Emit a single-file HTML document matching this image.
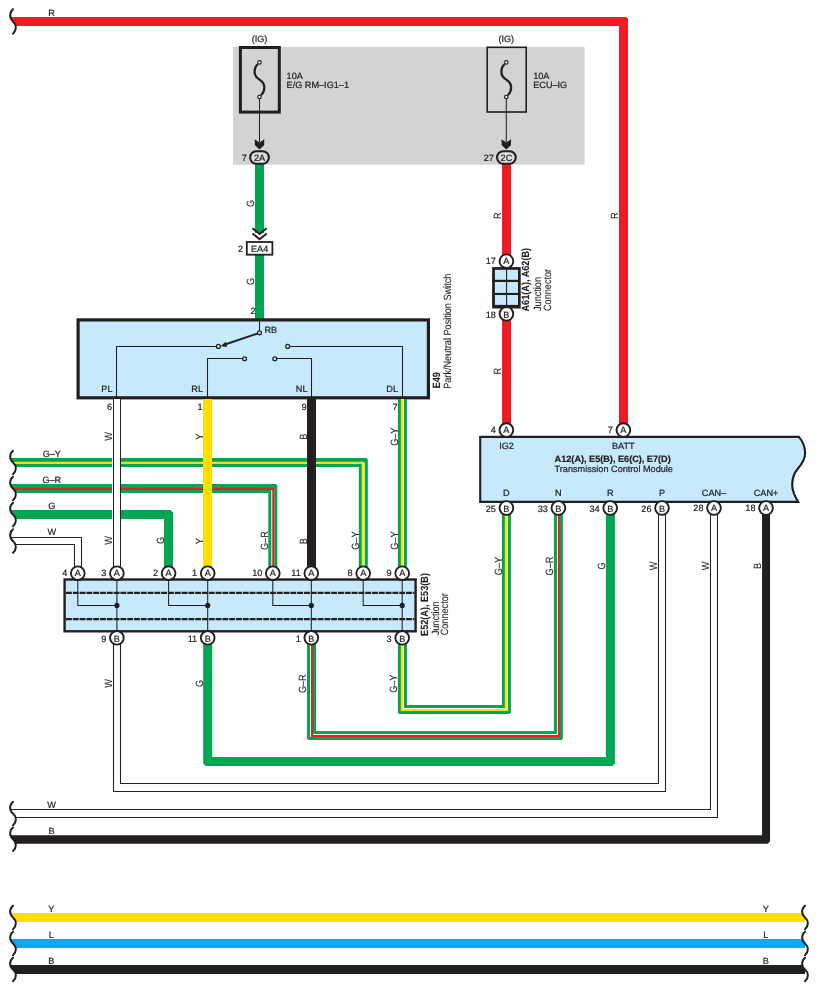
<!DOCTYPE html>
<html><head><meta charset="utf-8"><style>
html,body{margin:0;padding:0;background:#fff;}
svg{display:block;will-change:transform;}
text{font-family:"Liberation Sans", sans-serif;stroke:#231F20;text-rendering:geometricPrecision;}
</style></head><body>
<svg width="818" height="991" viewBox="0 0 818 991">
<rect x="0" y="0" width="818" height="991" fill="#fff"/>
<path d="M8,21.4 H623.5 V424" fill="none" stroke="#ED1C24" stroke-width="9.0" stroke-linejoin="miter"/>
<path d="M626.40,16.90 L628.60,16.30 L628.00,18.50 Z" fill="#fff"/>
<path d="M13,9.149999999999999 C9.2,12.579999999999998 9.2,17.97 13,21.4 C16.8,24.83 16.8,30.22 13,33.65 L4,33.65 L4,9.149999999999999 Z" fill="#fff"/>
<path d="M13,9.149999999999999 C9.2,12.579999999999998 9.2,17.97 13,21.4 C16.8,24.83 16.8,30.22 13,33.65" fill="none" stroke="#231F20" stroke-width="2" stroke-linecap="round"/>
<text transform="translate(51.6,16) scale(1,1.0)" font-size="9.15" text-anchor="middle" fill="#231F20" stroke-width="0.22">R</text>
<text transform="translate(617.7,215.7) rotate(-90) scale(1,1.15)" font-size="9.15" text-anchor="middle" fill="#231F20" stroke-width="0.08">R</text>
<rect x="233" y="46.9" width="351.6" height="117.8" fill="#D1D3D4"/>
<rect x="240.4" y="47.5" width="38.9" height="64.6" fill="none" stroke="#231F20" stroke-width="3.0"/>
<rect x="487.2" y="47.3" width="39" height="64.7" fill="none" stroke="#231F20" stroke-width="1.6"/>
<path d="M258.0,64.3 C256.0,65.5 254.6,69 254.6,72.2 C254.6,76 257.0,78 259.5,79.6 C262.0,81.2 264.3,83.5 264.3,87.3 C264.3,90.5 263.0,93.5 261.0,95.1" fill="none" stroke="#231F20" stroke-width="2.3"/>
<circle cx="259.5" cy="62.4" r="1.75" fill="#fff" stroke="#231F20" stroke-width="1.2"/>
<circle cx="259.5" cy="97.1" r="1.75" fill="#fff" stroke="#231F20" stroke-width="1.2"/>
<line x1="259.5" y1="98.8" x2="259.5" y2="142" stroke="#231F20" stroke-width="1"/>
<path d="M254.7,139.2 L259.5,142.6 L264.3,139.2 L264.1,145.3 L259.5,149.6 L254.9,145.3 Z" fill="#231F20"/>
<text transform="translate(259.5,41.7) scale(1,1.0)" font-size="9.15" text-anchor="middle" fill="#231F20" stroke-width="0.22">(IG)</text>
<path d="M504.8,64.3 C502.8,65.5 501.40000000000003,69 501.40000000000003,72.2 C501.40000000000003,76 503.8,78 506.3,79.6 C508.8,81.2 511.1,83.5 511.1,87.3 C511.1,90.5 509.8,93.5 507.8,95.1" fill="none" stroke="#231F20" stroke-width="2.3"/>
<circle cx="506.3" cy="62.4" r="1.75" fill="#fff" stroke="#231F20" stroke-width="1.2"/>
<circle cx="506.3" cy="97.1" r="1.75" fill="#fff" stroke="#231F20" stroke-width="1.2"/>
<line x1="506.3" y1="98.8" x2="506.3" y2="142" stroke="#231F20" stroke-width="1"/>
<path d="M501.5,139.2 L506.3,142.6 L511.1,139.2 L510.90000000000003,145.3 L506.3,149.6 L501.7,145.3 Z" fill="#231F20"/>
<text transform="translate(506.3,41.7) scale(1,1.0)" font-size="9.15" text-anchor="middle" fill="#231F20" stroke-width="0.22">(IG)</text>
<text transform="translate(286.6,78.8) scale(1,1.0)" font-size="9.15" text-anchor="start" fill="#231F20" stroke-width="0.22">10A</text>
<text transform="translate(286.6,87.6) scale(1,1.0)" font-size="9.15" text-anchor="start" fill="#231F20" stroke-width="0.22">E/G RM–IG1–1</text>
<text transform="translate(533.2,78.6) scale(1,1.0)" font-size="9.15" text-anchor="start" fill="#231F20" stroke-width="0.22">10A</text>
<text transform="translate(533.2,87.5) scale(1,1.0)" font-size="9.15" text-anchor="start" fill="#231F20" stroke-width="0.22">ECU–IG</text>
<path d="M259.5,160 V233" fill="none" stroke="#00A651" stroke-width="9.0" stroke-linejoin="miter"/>
<path d="M259.5,254 V319" fill="none" stroke="#00A651" stroke-width="9.0" stroke-linejoin="miter"/>
<text transform="translate(254,203.4) rotate(-90) scale(1,1.15)" font-size="9.15" text-anchor="middle" fill="#231F20" stroke-width="0.08">G</text>
<text transform="translate(254,281.4) rotate(-90) scale(1,1.15)" font-size="9.15" text-anchor="middle" fill="#231F20" stroke-width="0.08">G</text>
<path d="M252.5,228.3 L259.6,234 L266.7,228.3 M252.5,233.4 L259.6,239.2 L266.7,233.4" fill="none" stroke="#231F20" stroke-width="2"/>
<rect x="246.8" y="242" width="25.6" height="12.7" fill="#fff" stroke="#231F20" stroke-width="1.8"/>
<text transform="translate(259.6,251.9) scale(1,1.0)" font-size="9.15" text-anchor="middle" fill="#231F20" stroke-width="0.22">EA4</text>
<text transform="translate(243,251.9) scale(1,1.0)" font-size="9.15" text-anchor="end" fill="#231F20" stroke-width="0.22">2</text>
<text transform="translate(255.5,313.6) scale(1,1.0)" font-size="9.15" text-anchor="end" fill="#231F20" stroke-width="0.22">2</text>
<path d="M506.5,160 V255" fill="none" stroke="#ED1C24" stroke-width="9.0" stroke-linejoin="miter"/>
<path d="M506.5,312 V424" fill="none" stroke="#ED1C24" stroke-width="9.0" stroke-linejoin="miter"/>
<text transform="translate(501,215.7) rotate(-90) scale(1,1.15)" font-size="9.15" text-anchor="middle" fill="#231F20" stroke-width="0.08">R</text>
<text transform="translate(501,371.3) rotate(-90) scale(1,1.15)" font-size="9.15" text-anchor="middle" fill="#231F20" stroke-width="0.08">R</text>
<rect x="250.15" y="151.3" width="18.7" height="12.4" rx="6.2" ry="6.2" fill="#DCDDDE" stroke="#231F20" stroke-width="2.1"/>
<text transform="translate(259.5,160.7) scale(1,1.0)" font-size="9.15" text-anchor="middle" fill="#231F20" stroke-width="0.22">2A</text>
<text transform="translate(246.9,160.7) scale(1,1.0)" font-size="9.15" text-anchor="end" fill="#231F20" stroke-width="0.22">7</text>
<rect x="497.04999999999995" y="151.3" width="18.7" height="12.4" rx="6.2" ry="6.2" fill="#DCDDDE" stroke="#231F20" stroke-width="2.1"/>
<text transform="translate(506.4,160.7) scale(1,1.0)" font-size="9.15" text-anchor="middle" fill="#231F20" stroke-width="0.22">2C</text>
<text transform="translate(493.79999999999995,160.7) scale(1,1.0)" font-size="9.15" text-anchor="end" fill="#231F20" stroke-width="0.22">27</text>
<rect x="492.1" y="267.1" width="28.6" height="41.4" fill="#231F20"/>
<rect x="494.9" y="269.8" width="11.100000000000023" height="10.0" fill="#C6E9FC"/>
<rect x="494.9" y="282.0" width="11.100000000000023" height="10.899999999999977" fill="#C6E9FC"/>
<rect x="494.9" y="295.0" width="11.100000000000023" height="9.899999999999977" fill="#C6E9FC"/>
<rect x="507.1" y="269.8" width="10.899999999999977" height="10.0" fill="#C6E9FC"/>
<rect x="507.1" y="282.0" width="10.899999999999977" height="10.899999999999977" fill="#C6E9FC"/>
<rect x="507.1" y="295.0" width="10.899999999999977" height="9.899999999999977" fill="#C6E9FC"/>
<circle cx="506.4" cy="261.2" r="6.85" fill="#fff" stroke="#231F20" stroke-width="1.9"/>
<text transform="translate(506.4,263.9) scale(1,1.0)" font-size="9.15" text-anchor="middle" fill="#231F20" stroke-width="0.22">A</text>
<text transform="translate(495.8999999999999,263.9) scale(1,1.0)" font-size="9.15" text-anchor="end" fill="#231F20" stroke-width="0.22">17</text>
<circle cx="506.4" cy="313.8" r="6.85" fill="#fff" stroke="#231F20" stroke-width="1.9"/>
<text transform="translate(506.4,317.7) scale(1,1.0)" font-size="9.15" text-anchor="middle" fill="#231F20" stroke-width="0.22">B</text>
<text transform="translate(495.8999999999999,317.7) scale(1,1.0)" font-size="9.15" text-anchor="end" fill="#231F20" stroke-width="0.22">18</text>
<text transform="translate(529.3,279.7) rotate(-90) scale(1,1.15)" font-size="9.15" text-anchor="middle" font-weight="bold" fill="#231F20" stroke-width="0.08">A61(A), A62(B)</text>
<text transform="translate(540.6,311) rotate(-90) scale(1,1.15)" font-size="9.15" text-anchor="start" fill="#231F20" stroke-width="0.08">Junction</text>
<text transform="translate(550.5,311) rotate(-90) scale(1,1.15)" font-size="9.15" text-anchor="start" fill="#231F20" stroke-width="0.08">Connector</text>
<rect x="78.1" y="319.9" width="350.3" height="77.9" fill="#C6E9FC" stroke="#231F20" stroke-width="3.2"/>
<path d="M116.5,398 V346.5 H216.4 M207.5,398 V358.5 H242.6 M311.5,398 V358.5 H276.8 M402.5,398 V346.5 H289.7 M259.5,321 V330.9" fill="none" stroke="#231F20" stroke-width="1.05"/>
<circle cx="259.5" cy="332.8" r="1.95" fill="#C6E9FC" stroke="#231F20" stroke-width="1.25"/>
<circle cx="218.4" cy="346.4" r="1.95" fill="#C6E9FC" stroke="#231F20" stroke-width="1.25"/>
<circle cx="287.7" cy="346.4" r="1.95" fill="#C6E9FC" stroke="#231F20" stroke-width="1.25"/>
<circle cx="244.6" cy="358.7" r="1.95" fill="#C6E9FC" stroke="#231F20" stroke-width="1.25"/>
<circle cx="274.8" cy="358.7" r="1.95" fill="#C6E9FC" stroke="#231F20" stroke-width="1.25"/>
<line x1="257.7" y1="333.5" x2="225" y2="344.5" stroke="#231F20" stroke-width="1.9"/>
<path d="M220.7,346.3 L225.6,341.8 L227.0,347.0 Z" fill="#231F20"/>
<text transform="translate(264.5,332.6) scale(1,1.0)" font-size="9.15" text-anchor="start" fill="#231F20" stroke-width="0.22">RB</text>
<text transform="translate(112.5,392) scale(1,1.0)" font-size="9.15" text-anchor="end" fill="#231F20" stroke-width="0.22">PL</text>
<text transform="translate(203,392) scale(1,1.0)" font-size="9.15" text-anchor="end" fill="#231F20" stroke-width="0.22">RL</text>
<text transform="translate(307.5,392) scale(1,1.0)" font-size="9.15" text-anchor="end" fill="#231F20" stroke-width="0.22">NL</text>
<text transform="translate(398,392) scale(1,1.0)" font-size="9.15" text-anchor="end" fill="#231F20" stroke-width="0.22">DL</text>
<text transform="translate(112,409.5) scale(1,1.0)" font-size="9.15" text-anchor="end" fill="#231F20" stroke-width="0.22">6</text>
<text transform="translate(202.5,409.5) scale(1,1.0)" font-size="9.15" text-anchor="end" fill="#231F20" stroke-width="0.22">1</text>
<text transform="translate(306.5,409.5) scale(1,1.0)" font-size="9.15" text-anchor="end" fill="#231F20" stroke-width="0.22">9</text>
<text transform="translate(397.5,409.5) scale(1,1.0)" font-size="9.15" text-anchor="end" fill="#231F20" stroke-width="0.22">7</text>
<text transform="translate(440,380.2) rotate(-90) scale(1,1.15)" font-size="9.15" text-anchor="middle" font-weight="bold" fill="#231F20" stroke-width="0.08">E49</text>
<text transform="translate(451,388.8) rotate(-90) scale(1,1.15)" font-size="9.15" text-anchor="start" fill="#231F20" stroke-width="0.08">Park/Neutral Position Switch</text>
<path d="M8,462.4 H363.3 V567" fill="none" stroke="#00A651" stroke-width="9.0" stroke-linejoin="miter"/>
<path d="M366.50,457.90 L368.40,457.30 L367.80,459.20 Z" fill="#fff"/>
<line x1="363.3" y1="462.4" x2="363.3" y2="567.0" stroke="#fff" stroke-width="2.9"/>
<path transform="translate(-0.5,0.45)" d="M8,462.4 H363.3 V567" fill="none" stroke="#FFDE00" stroke-width="2.1" stroke-linejoin="miter"/>
<path d="M8,488.6 H272.8 V567" fill="none" stroke="#00A651" stroke-width="9.0" stroke-linejoin="miter"/>
<path d="M276.00,484.10 L277.90,483.50 L277.30,485.40 Z" fill="#fff"/>
<line x1="272.8" y1="488.6" x2="272.8" y2="567.0" stroke="#fff" stroke-width="2.9"/>
<path transform="translate(0.5,0.45)" d="M8,488.6 H272.8 V567" fill="none" stroke="#ED1C24" stroke-width="2.1" stroke-linejoin="miter"/>
<path d="M8,514.5 H168.5 V567" fill="none" stroke="#00A651" stroke-width="9.0" stroke-linejoin="miter"/>
<path d="M170.60,510.00 L173.60,509.40 L173.00,512.40 Z" fill="#fff"/>
<path d="M8,541 L78,541 L78,567" fill="none" stroke="#fff" stroke-width="7.4" stroke-linejoin="miter"/>
<path d="M8,537.5 L81.5,537.5 L81.5,567" fill="none" stroke="#231F20" stroke-width="1.05" stroke-linejoin="miter"/>
<path d="M8,544.5 L74.5,544.5 L74.5,567" fill="none" stroke="#231F20" stroke-width="1.05" stroke-linejoin="miter"/>
<path d="M13,450.65 C9.2,453.94 9.2,459.10999999999996 13,462.4 C16.8,465.69 16.8,470.85999999999996 13,474.15 L4,474.15 L4,450.65 Z" fill="#fff"/>
<path d="M13,450.65 C9.2,453.94 9.2,459.10999999999996 13,462.4 C16.8,465.69 16.8,470.85999999999996 13,474.15" fill="none" stroke="#231F20" stroke-width="2" stroke-linecap="round"/>
<path d="M13,476.85 C9.2,480.14000000000004 9.2,485.31 13,488.6 C16.8,491.89000000000004 16.8,497.06 13,500.35 L4,500.35 L4,476.85 Z" fill="#fff"/>
<path d="M13,476.85 C9.2,480.14000000000004 9.2,485.31 13,488.6 C16.8,491.89000000000004 16.8,497.06 13,500.35" fill="none" stroke="#231F20" stroke-width="2" stroke-linecap="round"/>
<path d="M13,502.75 C9.2,506.04 9.2,511.21 13,514.5 C16.8,517.79 16.8,522.96 13,526.25 L4,526.25 L4,502.75 Z" fill="#fff"/>
<path d="M13,502.75 C9.2,506.04 9.2,511.21 13,514.5 C16.8,517.79 16.8,522.96 13,526.25" fill="none" stroke="#231F20" stroke-width="2" stroke-linecap="round"/>
<path d="M13,529.25 C9.2,532.54 9.2,537.71 13,541 C16.8,544.29 16.8,549.46 13,552.75 L4,552.75 L4,529.25 Z" fill="#fff"/>
<path d="M13,529.25 C9.2,532.54 9.2,537.71 13,541 C16.8,544.29 16.8,549.46 13,552.75" fill="none" stroke="#231F20" stroke-width="2" stroke-linecap="round"/>
<text transform="translate(51.8,457.0) scale(1,1.0)" font-size="9.15" text-anchor="middle" fill="#231F20" stroke-width="0.22">G–Y</text>
<text transform="translate(51.8,482.6) scale(1,1.0)" font-size="9.15" text-anchor="middle" fill="#231F20" stroke-width="0.22">G–R</text>
<text transform="translate(51.8,508.7) scale(1,1.0)" font-size="9.15" text-anchor="middle" fill="#231F20" stroke-width="0.22">G</text>
<text transform="translate(51.8,534.6) scale(1,1.0)" font-size="9.15" text-anchor="middle" fill="#231F20" stroke-width="0.22">W</text>
<rect x="112" y="455" width="9" height="66" fill="#fff"/>
<path d="M117,399 L117,567" fill="none" stroke="#fff" stroke-width="7.4" stroke-linejoin="miter"/>
<path d="M120.5,399 L120.5,567" fill="none" stroke="#231F20" stroke-width="1.05" stroke-linejoin="miter"/>
<path d="M113.5,399 L113.5,567" fill="none" stroke="#231F20" stroke-width="1.05" stroke-linejoin="miter"/>
<path d="M207.5,399 V567" fill="none" stroke="#FFDE00" stroke-width="9.0" stroke-linejoin="miter"/>
<path d="M311.5,399 V567" fill="none" stroke="#231F20" stroke-width="9.0" stroke-linejoin="miter"/>
<path d="M402.4,399 V567" fill="none" stroke="#00A651" stroke-width="9.0" stroke-linejoin="miter"/>
<line x1="402.4" y1="399.0" x2="402.4" y2="567.0" stroke="#fff" stroke-width="2.9"/>
<path transform="translate(-0.5,0.45)" d="M402.4,399 V567" fill="none" stroke="#FFDE00" stroke-width="2.1" stroke-linejoin="miter"/>
<text transform="translate(112,436.5) rotate(-90) scale(1,1.15)" font-size="9.15" text-anchor="middle" fill="#231F20" stroke-width="0.08">W</text>
<text transform="translate(112,540.5) rotate(-90) scale(1,1.15)" font-size="9.15" text-anchor="middle" fill="#231F20" stroke-width="0.08">W</text>
<text transform="translate(202.5,436.7) rotate(-90) scale(1,1.15)" font-size="9.15" text-anchor="middle" fill="#231F20" stroke-width="0.08">Y</text>
<text transform="translate(202.5,541.2) rotate(-90) scale(1,1.15)" font-size="9.15" text-anchor="middle" fill="#231F20" stroke-width="0.08">Y</text>
<text transform="translate(306.5,436.7) rotate(-90) scale(1,1.15)" font-size="9.15" text-anchor="middle" fill="#231F20" stroke-width="0.08">B</text>
<text transform="translate(306.5,541.2) rotate(-90) scale(1,1.15)" font-size="9.15" text-anchor="middle" fill="#231F20" stroke-width="0.08">B</text>
<text transform="translate(397.5,436.7) rotate(-90) scale(1,1.15)" font-size="9.15" text-anchor="middle" fill="#231F20" stroke-width="0.08">G–Y</text>
<text transform="translate(397.5,540.6) rotate(-90) scale(1,1.15)" font-size="9.15" text-anchor="middle" fill="#231F20" stroke-width="0.08">G–Y</text>
<text transform="translate(163.5,540.5) rotate(-90) scale(1,1.15)" font-size="9.15" text-anchor="middle" fill="#231F20" stroke-width="0.08">G</text>
<text transform="translate(267.7,540.6) rotate(-90) scale(1,1.15)" font-size="9.15" text-anchor="middle" fill="#231F20" stroke-width="0.08">G–R</text>
<text transform="translate(358.5,540.6) rotate(-90) scale(1,1.15)" font-size="9.15" text-anchor="middle" fill="#231F20" stroke-width="0.08">G–Y</text>
<path d="M117,640 L117,787.5 L662,787.5 L662,512" fill="none" stroke="#fff" stroke-width="7.4" stroke-linejoin="miter"/>
<path d="M120.5,640 L120.5,783.5 L658.5,783.5 L658.5,512" fill="none" stroke="#231F20" stroke-width="1.05" stroke-linejoin="miter"/>
<path d="M113.5,640 L113.5,791.5 L665.5,791.5 L665.5,512" fill="none" stroke="#231F20" stroke-width="1.05" stroke-linejoin="miter"/>
<path d="M207.7,640 V761.5 H610.4 V512" fill="none" stroke="#00A651" stroke-width="9.0" stroke-linejoin="miter"/>
<path d="M203.20,763.60 L202.60,766.60 L205.60,766.00 Z" fill="#fff"/>
<path d="M612.50,766.00 L615.50,766.60 L614.90,763.60 Z" fill="#fff"/>
<path d="M311.5,640 V735.5 H558.4 V512" fill="none" stroke="#00A651" stroke-width="9.0" stroke-linejoin="miter"/>
<path d="M307.00,738.70 L306.40,740.60 L308.30,740.00 Z" fill="#fff"/>
<path d="M561.60,740.00 L563.50,740.60 L562.90,738.70 Z" fill="#fff"/>
<path d="M311.5,640 V735.5 H558.4 V512" fill="none" stroke="#fff" stroke-width="2.9" stroke-linejoin="miter"/>
<path transform="translate(0.5,0.45)" d="M311.5,640 V735.5 H558.4 V512" fill="none" stroke="#ED1C24" stroke-width="2.1" stroke-linejoin="miter"/>
<path d="M402.4,640 V709.5 H506.4 V512" fill="none" stroke="#00A651" stroke-width="9.0" stroke-linejoin="miter"/>
<path d="M397.90,712.70 L397.30,714.60 L399.20,714.00 Z" fill="#fff"/>
<path d="M509.60,714.00 L511.50,714.60 L510.90,712.70 Z" fill="#fff"/>
<path d="M402.4,640 V709.5 H506.4 V512" fill="none" stroke="#fff" stroke-width="2.9" stroke-linejoin="miter"/>
<path transform="translate(-0.5,0.45)" d="M402.4,640 V709.5 H506.4 V512" fill="none" stroke="#FFDE00" stroke-width="2.1" stroke-linejoin="miter"/>
<text transform="translate(112.3,683.5) rotate(-90) scale(1,1.15)" font-size="9.15" text-anchor="middle" fill="#231F20" stroke-width="0.08">W</text>
<text transform="translate(202.5,683.5) rotate(-90) scale(1,1.15)" font-size="9.15" text-anchor="middle" fill="#231F20" stroke-width="0.08">G</text>
<text transform="translate(306.2,683.7) rotate(-90) scale(1,1.15)" font-size="9.15" text-anchor="middle" fill="#231F20" stroke-width="0.08">G–R</text>
<text transform="translate(397.3,683.7) rotate(-90) scale(1,1.15)" font-size="9.15" text-anchor="middle" fill="#231F20" stroke-width="0.08">G–Y</text>
<path d="M8,813.5 L714,813.5 L714,512" fill="none" stroke="#fff" stroke-width="7.4" stroke-linejoin="miter"/>
<path d="M8,809.5 L710.5,809.5 L710.5,512" fill="none" stroke="#231F20" stroke-width="1.05" stroke-linejoin="miter"/>
<path d="M8,817.5 L717.5,817.5 L717.5,512" fill="none" stroke="#231F20" stroke-width="1.05" stroke-linejoin="miter"/>
<path d="M8,835.15 H762.05 V512 H770.05 V841.3 L767.7,843.65 H8 Z" fill="#231F20"/>
<path d="M13,801.75 C9.2,805.04 9.2,810.21 13,813.5 C16.8,816.79 16.8,821.96 13,825.25 L4,825.25 L4,801.75 Z" fill="#fff"/>
<path d="M13,801.75 C9.2,805.04 9.2,810.21 13,813.5 C16.8,816.79 16.8,821.96 13,825.25" fill="none" stroke="#231F20" stroke-width="2" stroke-linecap="round"/>
<path d="M13,827.45 C9.2,830.74 9.2,835.9100000000001 13,839.2 C16.8,842.49 16.8,847.6600000000001 13,850.95 L4,850.95 L4,827.45 Z" fill="#fff"/>
<path d="M13,827.45 C9.2,830.74 9.2,835.9100000000001 13,839.2 C16.8,842.49 16.8,847.6600000000001 13,850.95" fill="none" stroke="#231F20" stroke-width="2" stroke-linecap="round"/>
<text transform="translate(51.5,807.9) scale(1,1.0)" font-size="9.15" text-anchor="middle" fill="#231F20" stroke-width="0.22">W</text>
<text transform="translate(51.5,833.6) scale(1,1.0)" font-size="9.15" text-anchor="middle" fill="#231F20" stroke-width="0.22">B</text>
<text transform="translate(501.5,566) rotate(-90) scale(1,1.15)" font-size="9.15" text-anchor="middle" fill="#231F20" stroke-width="0.08">G–Y</text>
<text transform="translate(553.3,566) rotate(-90) scale(1,1.15)" font-size="9.15" text-anchor="middle" fill="#231F20" stroke-width="0.08">G–R</text>
<text transform="translate(605,566) rotate(-90) scale(1,1.15)" font-size="9.15" text-anchor="middle" fill="#231F20" stroke-width="0.08">G</text>
<text transform="translate(657,566) rotate(-90) scale(1,1.15)" font-size="9.15" text-anchor="middle" fill="#231F20" stroke-width="0.08">W</text>
<text transform="translate(709,566) rotate(-90) scale(1,1.15)" font-size="9.15" text-anchor="middle" fill="#231F20" stroke-width="0.08">W</text>
<text transform="translate(761,566) rotate(-90) scale(1,1.15)" font-size="9.15" text-anchor="middle" fill="#231F20" stroke-width="0.08">B</text>
<rect x="64.6" y="579.5" width="351" height="51.8" fill="#C6E9FC" stroke="#231F20" stroke-width="2.4"/>
<path d="M66,592.9 H414.4 M66,619.1 H414.4" fill="none" stroke="#231F20" stroke-width="2.2" stroke-dasharray="5.9,0.9"/>
<path d="M77.8,581 V605.4 H116.9 M116.9,581 V631 M168.6,581 V605.4 H207.7 M207.7,581 V631 M272.8,581 V605.4 H311.3 M311.3,581 V631 M363.2,581 V605.4 H402.2 M402.2,581 V631" fill="none" stroke="#231F20" stroke-width="1.05"/>
<circle cx="116.9" cy="605.4" r="2.6" fill="#231F20"/>
<circle cx="207.7" cy="605.4" r="2.6" fill="#231F20"/>
<circle cx="311.3" cy="605.4" r="2.6" fill="#231F20"/>
<circle cx="402.2" cy="605.4" r="2.6" fill="#231F20"/>
<circle cx="77.8" cy="573.2" r="6.85" fill="#fff" stroke="#231F20" stroke-width="1.9"/>
<text transform="translate(77.8,575.9000000000001) scale(1,1.0)" font-size="9.15" text-anchor="middle" fill="#231F20" stroke-width="0.22">A</text>
<text transform="translate(67.30000000000001,575.9000000000001) scale(1,1.0)" font-size="9.15" text-anchor="end" fill="#231F20" stroke-width="0.22">4</text>
<circle cx="116.9" cy="573.2" r="6.85" fill="#fff" stroke="#231F20" stroke-width="1.9"/>
<text transform="translate(116.9,575.9000000000001) scale(1,1.0)" font-size="9.15" text-anchor="middle" fill="#231F20" stroke-width="0.22">A</text>
<text transform="translate(106.40000000000002,575.9000000000001) scale(1,1.0)" font-size="9.15" text-anchor="end" fill="#231F20" stroke-width="0.22">3</text>
<circle cx="168.6" cy="573.2" r="6.85" fill="#fff" stroke="#231F20" stroke-width="1.9"/>
<text transform="translate(168.6,575.9000000000001) scale(1,1.0)" font-size="9.15" text-anchor="middle" fill="#231F20" stroke-width="0.22">A</text>
<text transform="translate(158.10000000000002,575.9000000000001) scale(1,1.0)" font-size="9.15" text-anchor="end" fill="#231F20" stroke-width="0.22">2</text>
<circle cx="207.7" cy="573.2" r="6.85" fill="#fff" stroke="#231F20" stroke-width="1.9"/>
<text transform="translate(207.7,575.9000000000001) scale(1,1.0)" font-size="9.15" text-anchor="middle" fill="#231F20" stroke-width="0.22">A</text>
<text transform="translate(197.20000000000002,575.9000000000001) scale(1,1.0)" font-size="9.15" text-anchor="end" fill="#231F20" stroke-width="0.22">1</text>
<circle cx="272.8" cy="573.2" r="6.85" fill="#fff" stroke="#231F20" stroke-width="1.9"/>
<text transform="translate(272.8,575.9000000000001) scale(1,1.0)" font-size="9.15" text-anchor="middle" fill="#231F20" stroke-width="0.22">A</text>
<text transform="translate(262.29999999999995,575.9000000000001) scale(1,1.0)" font-size="9.15" text-anchor="end" fill="#231F20" stroke-width="0.22">10</text>
<circle cx="311.3" cy="573.2" r="6.85" fill="#fff" stroke="#231F20" stroke-width="1.9"/>
<text transform="translate(311.3,575.9000000000001) scale(1,1.0)" font-size="9.15" text-anchor="middle" fill="#231F20" stroke-width="0.22">A</text>
<text transform="translate(300.79999999999995,575.9000000000001) scale(1,1.0)" font-size="9.15" text-anchor="end" fill="#231F20" stroke-width="0.22">11</text>
<circle cx="363.2" cy="573.2" r="6.85" fill="#fff" stroke="#231F20" stroke-width="1.9"/>
<text transform="translate(363.2,575.9000000000001) scale(1,1.0)" font-size="9.15" text-anchor="middle" fill="#231F20" stroke-width="0.22">A</text>
<text transform="translate(352.69999999999993,575.9000000000001) scale(1,1.0)" font-size="9.15" text-anchor="end" fill="#231F20" stroke-width="0.22">8</text>
<circle cx="402.2" cy="573.2" r="6.85" fill="#fff" stroke="#231F20" stroke-width="1.9"/>
<text transform="translate(402.2,575.9000000000001) scale(1,1.0)" font-size="9.15" text-anchor="middle" fill="#231F20" stroke-width="0.22">A</text>
<text transform="translate(391.69999999999993,575.9000000000001) scale(1,1.0)" font-size="9.15" text-anchor="end" fill="#231F20" stroke-width="0.22">9</text>
<circle cx="116.9" cy="637.8" r="6.85" fill="#fff" stroke="#231F20" stroke-width="1.9"/>
<text transform="translate(116.9,641.6999999999999) scale(1,1.0)" font-size="9.15" text-anchor="middle" fill="#231F20" stroke-width="0.22">B</text>
<text transform="translate(106.40000000000002,641.6999999999999) scale(1,1.0)" font-size="9.15" text-anchor="end" fill="#231F20" stroke-width="0.22">9</text>
<circle cx="207.7" cy="637.8" r="6.85" fill="#fff" stroke="#231F20" stroke-width="1.9"/>
<text transform="translate(207.7,641.6999999999999) scale(1,1.0)" font-size="9.15" text-anchor="middle" fill="#231F20" stroke-width="0.22">B</text>
<text transform="translate(197.20000000000002,641.6999999999999) scale(1,1.0)" font-size="9.15" text-anchor="end" fill="#231F20" stroke-width="0.22">11</text>
<circle cx="311.3" cy="637.8" r="6.85" fill="#fff" stroke="#231F20" stroke-width="1.9"/>
<text transform="translate(311.3,641.6999999999999) scale(1,1.0)" font-size="9.15" text-anchor="middle" fill="#231F20" stroke-width="0.22">B</text>
<text transform="translate(300.79999999999995,641.6999999999999) scale(1,1.0)" font-size="9.15" text-anchor="end" fill="#231F20" stroke-width="0.22">1</text>
<circle cx="402.2" cy="637.8" r="6.85" fill="#fff" stroke="#231F20" stroke-width="1.9"/>
<text transform="translate(402.2,641.6999999999999) scale(1,1.0)" font-size="9.15" text-anchor="middle" fill="#231F20" stroke-width="0.22">B</text>
<text transform="translate(391.69999999999993,641.6999999999999) scale(1,1.0)" font-size="9.15" text-anchor="end" fill="#231F20" stroke-width="0.22">3</text>
<text transform="translate(427.5,604.5) rotate(-90) scale(1,1.15)" font-size="9.15" text-anchor="middle" font-weight="bold" fill="#231F20" stroke-width="0.08">E52(A), E53(B)</text>
<text transform="translate(438.5,635.3) rotate(-90) scale(1,1.15)" font-size="9.15" text-anchor="start" fill="#231F20" stroke-width="0.08">Junction</text>
<text transform="translate(448,635.3) rotate(-90) scale(1,1.15)" font-size="9.15" text-anchor="start" fill="#231F20" stroke-width="0.08">Connector</text>
<path d="M480.2,436.9 H798.9 C802.5,441 805.1,447 805.1,453.4 C805.1,460 801,465 797.8,468.7 C794.5,472.5 792.2,478 792.2,484.8 C792.2,491 795,496.8 798.2,501.9 H480.2 Z" fill="#C6E9FC" stroke="#231F20" stroke-width="2.1"/>
<circle cx="506.4" cy="430.1" r="6.85" fill="#fff" stroke="#231F20" stroke-width="1.9"/>
<text transform="translate(506.4,432.8) scale(1,1.0)" font-size="9.15" text-anchor="middle" fill="#231F20" stroke-width="0.22">A</text>
<text transform="translate(495.8999999999999,432.8) scale(1,1.0)" font-size="9.15" text-anchor="end" fill="#231F20" stroke-width="0.22">4</text>
<circle cx="623.4" cy="430.1" r="6.85" fill="#fff" stroke="#231F20" stroke-width="1.9"/>
<text transform="translate(623.4,432.8) scale(1,1.0)" font-size="9.15" text-anchor="middle" fill="#231F20" stroke-width="0.22">A</text>
<text transform="translate(612.8999999999999,432.8) scale(1,1.0)" font-size="9.15" text-anchor="end" fill="#231F20" stroke-width="0.22">7</text>
<text transform="translate(506.5,448.9) scale(1,1.0)" font-size="9.15" text-anchor="middle" fill="#231F20" stroke-width="0.22">IG2</text>
<text transform="translate(623.3,448.9) scale(1,1.0)" font-size="9.15" text-anchor="middle" fill="#231F20" stroke-width="0.22">BATT</text>
<text transform="translate(554.6,461.6) scale(1,1.0)" font-size="9.15" text-anchor="start" font-weight="bold" fill="#231F20" stroke-width="0.22">A12(A), E5(B), E6(C), E7(D)</text>
<text transform="translate(554.6,471.8) scale(1,1.0)" font-size="9.15" text-anchor="start" fill="#231F20" stroke-width="0.22">Transmission Control Module</text>
<text transform="translate(506.4,495.5) scale(1,1.0)" font-size="9.15" text-anchor="middle" fill="#231F20" stroke-width="0.22">D</text>
<text transform="translate(558.4,495.5) scale(1,1.0)" font-size="9.15" text-anchor="middle" fill="#231F20" stroke-width="0.22">N</text>
<text transform="translate(610.2,495.5) scale(1,1.0)" font-size="9.15" text-anchor="middle" fill="#231F20" stroke-width="0.22">R</text>
<text transform="translate(662,495.5) scale(1,1.0)" font-size="9.15" text-anchor="middle" fill="#231F20" stroke-width="0.22">P</text>
<text transform="translate(714,495.5) scale(1,1.0)" font-size="9.15" text-anchor="middle" fill="#231F20" stroke-width="0.22">CAN–</text>
<text transform="translate(766,495.5) scale(1,1.0)" font-size="9.15" text-anchor="middle" fill="#231F20" stroke-width="0.22">CAN+</text>
<circle cx="506.4" cy="508.0" r="6.85" fill="#fff" stroke="#231F20" stroke-width="1.9"/>
<text transform="translate(506.4,511.9) scale(1,1.0)" font-size="9.15" text-anchor="middle" fill="#231F20" stroke-width="0.22">B</text>
<text transform="translate(495.8999999999999,511.9) scale(1,1.0)" font-size="9.15" text-anchor="end" fill="#231F20" stroke-width="0.22">25</text>
<circle cx="558.4" cy="508.0" r="6.85" fill="#fff" stroke="#231F20" stroke-width="1.9"/>
<text transform="translate(558.4,511.9) scale(1,1.0)" font-size="9.15" text-anchor="middle" fill="#231F20" stroke-width="0.22">B</text>
<text transform="translate(547.8999999999999,511.9) scale(1,1.0)" font-size="9.15" text-anchor="end" fill="#231F20" stroke-width="0.22">33</text>
<circle cx="610.2" cy="508.0" r="6.85" fill="#fff" stroke="#231F20" stroke-width="1.9"/>
<text transform="translate(610.2,511.9) scale(1,1.0)" font-size="9.15" text-anchor="middle" fill="#231F20" stroke-width="0.22">B</text>
<text transform="translate(599.6999999999999,511.9) scale(1,1.0)" font-size="9.15" text-anchor="end" fill="#231F20" stroke-width="0.22">34</text>
<circle cx="662" cy="508.0" r="6.85" fill="#fff" stroke="#231F20" stroke-width="1.9"/>
<text transform="translate(662,511.9) scale(1,1.0)" font-size="9.15" text-anchor="middle" fill="#231F20" stroke-width="0.22">B</text>
<text transform="translate(651.4999999999999,511.9) scale(1,1.0)" font-size="9.15" text-anchor="end" fill="#231F20" stroke-width="0.22">26</text>
<circle cx="714" cy="508.0" r="6.85" fill="#fff" stroke="#231F20" stroke-width="1.9"/>
<text transform="translate(714,510.7) scale(1,1.0)" font-size="9.15" text-anchor="middle" fill="#231F20" stroke-width="0.22">A</text>
<text transform="translate(703.4999999999999,510.7) scale(1,1.0)" font-size="9.15" text-anchor="end" fill="#231F20" stroke-width="0.22">28</text>
<circle cx="766" cy="508.0" r="6.85" fill="#fff" stroke="#231F20" stroke-width="1.9"/>
<text transform="translate(766,510.7) scale(1,1.0)" font-size="9.15" text-anchor="middle" fill="#231F20" stroke-width="0.22">A</text>
<text transform="translate(755.4999999999999,510.7) scale(1,1.0)" font-size="9.15" text-anchor="end" fill="#231F20" stroke-width="0.22">18</text>
<path d="M8,917.4 H805" fill="none" stroke="#FFDE00" stroke-width="9.0" stroke-linejoin="miter"/>
<path d="M8,943.4 H805" fill="none" stroke="#00AEEF" stroke-width="9.0" stroke-linejoin="miter"/>
<path d="M8,969.5 H805" fill="none" stroke="#231F20" stroke-width="9.0" stroke-linejoin="miter"/>
<path d="M13,905.65 C9.2,908.9399999999999 9.2,914.11 13,917.4 C16.8,920.6899999999999 16.8,925.86 13,929.15 L4,929.15 L4,905.65 Z" fill="#fff"/>
<path d="M13,905.65 C9.2,908.9399999999999 9.2,914.11 13,917.4 C16.8,920.6899999999999 16.8,925.86 13,929.15" fill="none" stroke="#231F20" stroke-width="2" stroke-linecap="round"/>
<path d="M805,905.65 C801.2,908.9399999999999 801.2,914.11 805,917.4 C808.8,920.6899999999999 808.8,925.86 805,929.15 L814,929.15 L814,905.65 Z" fill="#fff"/>
<path d="M805,905.65 C801.2,908.9399999999999 801.2,914.11 805,917.4 C808.8,920.6899999999999 808.8,925.86 805,929.15" fill="none" stroke="#231F20" stroke-width="2" stroke-linecap="round"/>
<path d="M13,931.65 C9.2,934.9399999999999 9.2,940.11 13,943.4 C16.8,946.6899999999999 16.8,951.86 13,955.15 L4,955.15 L4,931.65 Z" fill="#fff"/>
<path d="M13,931.65 C9.2,934.9399999999999 9.2,940.11 13,943.4 C16.8,946.6899999999999 16.8,951.86 13,955.15" fill="none" stroke="#231F20" stroke-width="2" stroke-linecap="round"/>
<path d="M805,931.65 C801.2,934.9399999999999 801.2,940.11 805,943.4 C808.8,946.6899999999999 808.8,951.86 805,955.15 L814,955.15 L814,931.65 Z" fill="#fff"/>
<path d="M805,931.65 C801.2,934.9399999999999 801.2,940.11 805,943.4 C808.8,946.6899999999999 808.8,951.86 805,955.15" fill="none" stroke="#231F20" stroke-width="2" stroke-linecap="round"/>
<path d="M13,957.75 C9.2,961.04 9.2,966.21 13,969.5 C16.8,972.79 16.8,977.96 13,981.25 L4,981.25 L4,957.75 Z" fill="#fff"/>
<path d="M13,957.75 C9.2,961.04 9.2,966.21 13,969.5 C16.8,972.79 16.8,977.96 13,981.25" fill="none" stroke="#231F20" stroke-width="2" stroke-linecap="round"/>
<path d="M805,957.75 C801.2,961.04 801.2,966.21 805,969.5 C808.8,972.79 808.8,977.96 805,981.25 L814,981.25 L814,957.75 Z" fill="#fff"/>
<path d="M805,957.75 C801.2,961.04 801.2,966.21 805,969.5 C808.8,972.79 808.8,977.96 805,981.25" fill="none" stroke="#231F20" stroke-width="2" stroke-linecap="round"/>
<text transform="translate(51.3,911.8) scale(1,1.0)" font-size="9.15" text-anchor="middle" fill="#231F20" stroke-width="0.22">Y</text>
<text transform="translate(765.8,911.8) scale(1,1.0)" font-size="9.15" text-anchor="middle" fill="#231F20" stroke-width="0.22">Y</text>
<text transform="translate(51.3,938) scale(1,1.0)" font-size="9.15" text-anchor="middle" fill="#231F20" stroke-width="0.22">L</text>
<text transform="translate(765.8,938) scale(1,1.0)" font-size="9.15" text-anchor="middle" fill="#231F20" stroke-width="0.22">L</text>
<text transform="translate(51.3,963.6) scale(1,1.0)" font-size="9.15" text-anchor="middle" fill="#231F20" stroke-width="0.22">B</text>
<text transform="translate(765.8,963.6) scale(1,1.0)" font-size="9.15" text-anchor="middle" fill="#231F20" stroke-width="0.22">B</text>
</svg>
</body></html>
